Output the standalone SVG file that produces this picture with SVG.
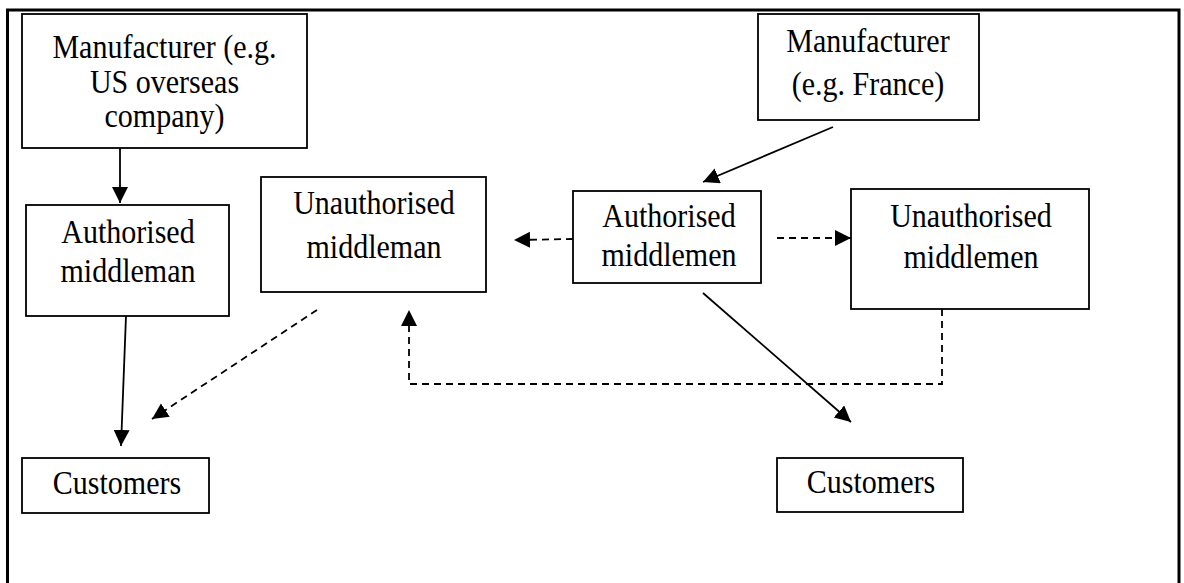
<svg xmlns="http://www.w3.org/2000/svg" width="1184" height="583" viewBox="0 0 1184 583">
<style>
  .box{fill:#fff;stroke:#000;stroke-width:1.8}
  .t{font-family:"Liberation Serif","Times New Roman",serif;font-size:33px;fill:#000;text-anchor:middle}
  .solid{fill:none;stroke:#000;stroke-width:1.8}
  .dash{fill:none;stroke:#000;stroke-width:1.8;stroke-dasharray:7 5}
  .frame{fill:none;stroke:#000;stroke-width:3}
</style>
<defs>
  <marker id="arr" markerUnits="userSpaceOnUse" markerWidth="17" markerHeight="17" refX="16" refY="8" orient="auto">
    <path d="M0,0 L16,8 L0,16 z" fill="#000"/>
  </marker>
</defs>
<rect width="1184" height="583" fill="#fff"/>
<path class="frame" d="M7.5,583 V10 H1179 V583"/>
<g id="connectors">
  <line class="solid" x1="120" y1="148" x2="120" y2="203" marker-end="url(#arr)"/>
  <line class="solid" x1="126" y1="316" x2="121" y2="446" marker-end="url(#arr)"/>
  <line class="dash" x1="317" y1="310" x2="152" y2="419" marker-end="url(#arr)"/>
  <line class="dash" x1="573" y1="239" x2="514" y2="240" marker-end="url(#arr)"/>
  <line class="dash" x1="777" y1="238" x2="851" y2="238" marker-end="url(#arr)"/>
  <path class="dash" d="M942,309 V384 H409 V310" marker-end="url(#arr)"/>
  <line class="solid" x1="833" y1="127" x2="703" y2="182" marker-end="url(#arr)"/>
  <line class="solid" x1="703" y1="293" x2="851" y2="422" marker-end="url(#arr)"/>
</g>
<g id="mfr-us">
  <rect class="box" x="22" y="14" width="285" height="134"/>
  <text class="t" transform="translate(164.5,58) scale(0.91,1)">Manufacturer (e.g.</text>
  <text class="t" transform="translate(164.5,93) scale(0.91,1)">US overseas</text>
  <text class="t" transform="translate(164.5,127) scale(0.91,1)">company)</text>
</g>
<g id="auth-middleman">
  <rect class="box" x="26" y="205" width="203" height="111"/>
  <text class="t" transform="translate(128,243) scale(0.91,1)">Authorised</text>
  <text class="t" transform="translate(128,282) scale(0.91,1)">middleman</text>
</g>
<g id="customers-left">
  <rect class="box" x="22" y="458" width="187" height="55"/>
  <text class="t" transform="translate(117,494) scale(0.91,1)">Customers</text>
</g>
<g id="unauth-middleman">
  <rect class="box" x="261" y="177" width="225" height="115"/>
  <text class="t" transform="translate(374,214) scale(0.91,1)">Unauthorised</text>
  <text class="t" transform="translate(374,258) scale(0.91,1)">middleman</text>
</g>
<g id="mfr-france">
  <rect class="box" x="758" y="14" width="221" height="106"/>
  <text class="t" transform="translate(868,52) scale(0.91,1)">Manufacturer</text>
  <text class="t" transform="translate(868,95) scale(0.91,1)">(e.g. France)</text>
</g>
<g id="auth-middlemen">
  <rect class="box" x="573" y="191" width="188" height="92"/>
  <text class="t" transform="translate(669,227) scale(0.91,1)">Authorised</text>
  <text class="t" transform="translate(669,266) scale(0.91,1)">middlemen</text>
</g>
<g id="unauth-middlemen">
  <rect class="box" x="851" y="189" width="238" height="120"/>
  <text class="t" transform="translate(971,227) scale(0.91,1)">Unauthorised</text>
  <text class="t" transform="translate(971,268) scale(0.91,1)">middlemen</text>
</g>
<g id="customers-right">
  <rect class="box" x="777" y="458" width="186" height="54"/>
  <text class="t" transform="translate(871,493) scale(0.91,1)">Customers</text>
</g>
</svg>
